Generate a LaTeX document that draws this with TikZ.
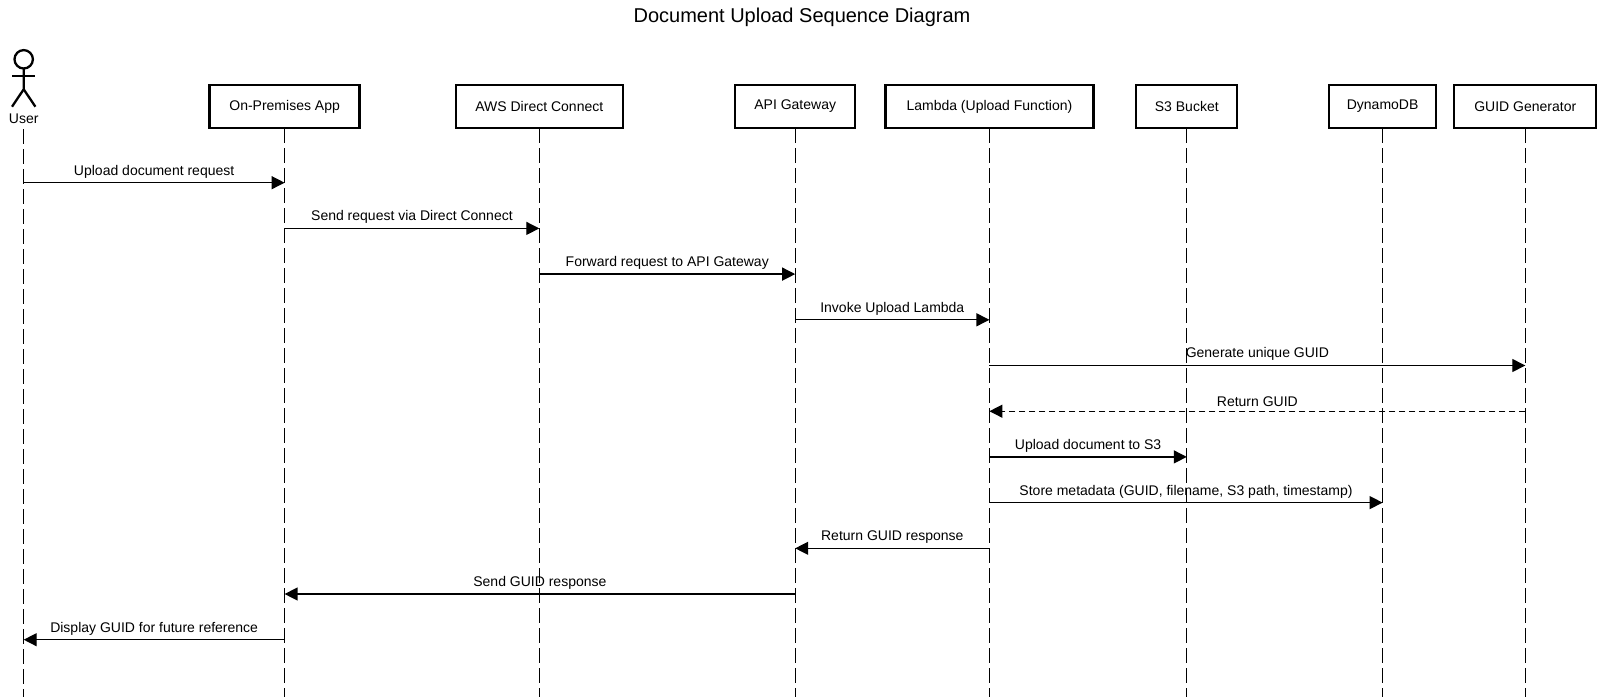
\documentclass[tikz,border=0pt]{standalone}
\usepackage{fontspec}
\setmainfont{Liberation Sans}
\usetikzlibrary{arrows.meta}
\providecommand*{\xMax}{}
\providecommand*{\yMax}{}
\providecommand*{\yBox}{}
\providecommand*{\yStep}{}
\renewcommand*{\xMax}{1604}
\renewcommand*{\yMax}{697}
\renewcommand*{\yBox}{106.5}
\renewcommand*{\yStep}{45.7}
\tikzset{
  part/.style={draw,line width=2.3pt,minimum height=43pt,outer sep=0pt,inner sep=0pt,font=\fontsize{14}{16}\selectfont},
  life/.style={line width=1.3pt,dash pattern=on 15pt off 5pt},
  actor/.style={line width=2.3pt},
  msg/.style={line width=1.3pt,-{Triangle[length=13pt,width=13pt]}},
  reply/.style={msg,dash pattern=on 6pt off 4pt},
  msgtext/.style={midway,above,inner sep=0pt,yshift=4pt,font=\fontsize{14}{16}\selectfont}
}
\begin{document}
\begin{tikzpicture}[x=1pt,y=-1pt]
  \useasboundingbox (0,0) rectangle (\xMax,\yMax);
  \node (title) at (802,17.5) {\fontsize{20}{24}\selectfont Document Upload Sequence Diagram};

  \draw [actor] (23.7,59.3) circle (9.2);
  \draw [actor] (12,76) -- (35.4,76);
  \draw [actor] (23.7,68.5) -- (23.7,89.3) -- (12,106.7);
  \draw [actor] (23.7,89.3) -- (35.4,106.7);
  \node (user) [minimum height=20pt,inner sep=0pt,outer sep=0pt,font=\fontsize{14}{16}\selectfont] at (23.7,119) {User};

  \foreach \name/\xPos/\boxW/\txt in {
    app/284.6/150/On-Premises App,
    connect/539.3/167/AWS Direct Connect,
    gateway/795.2/120/API Gateway,
    lambda/989.4/208/Lambda (Upload Function),
    bucket/1186.8/101/S3 Bucket,
    dynamo/1382.6/107/DynamoDB,
    guid/1525.3/142/GUID Generator} {
    \node (\name) [part,minimum width=\boxW pt] at (\xPos,\yBox) {\txt};
  }

  \foreach \name in {user,app,connect,gateway,lambda,bucket,dynamo,guid} {
    \coordinate (\name End) at (\name |- 0,\yMax);
    \draw [life] (\name.south) -- (\name End);
  }

  \foreach \from/\to/\i/\sty/\txt in {
    user/app/0/msg/Upload document request,
    app/connect/1/msg/Send request via Direct Connect,
    connect/gateway/2/msg/Forward request to API Gateway,
    gateway/lambda/3/msg/Invoke Upload Lambda,
    lambda/guid/4/msg/Generate unique GUID,
    guid/lambda/5/reply/Return GUID,
    lambda/bucket/6/msg/Upload document to S3,
    lambda/dynamo/7/msg/{Store metadata (GUID, filename, S3 path, timestamp)},
    lambda/gateway/8/msg/Return GUID response,
    gateway/app/9/msg/Send GUID response,
    app/user/10/msg/Display GUID for future reference} {
    \coordinate (from\i) at (\from |- 0,182.7+\i*\yStep);
    \coordinate (to\i) at (\to |- 0,182.7+\i*\yStep);
    \draw [\sty] (from\i) -- (to\i) node (label\i) [msgtext] {\txt};
  }
\end{tikzpicture}
\end{document}
